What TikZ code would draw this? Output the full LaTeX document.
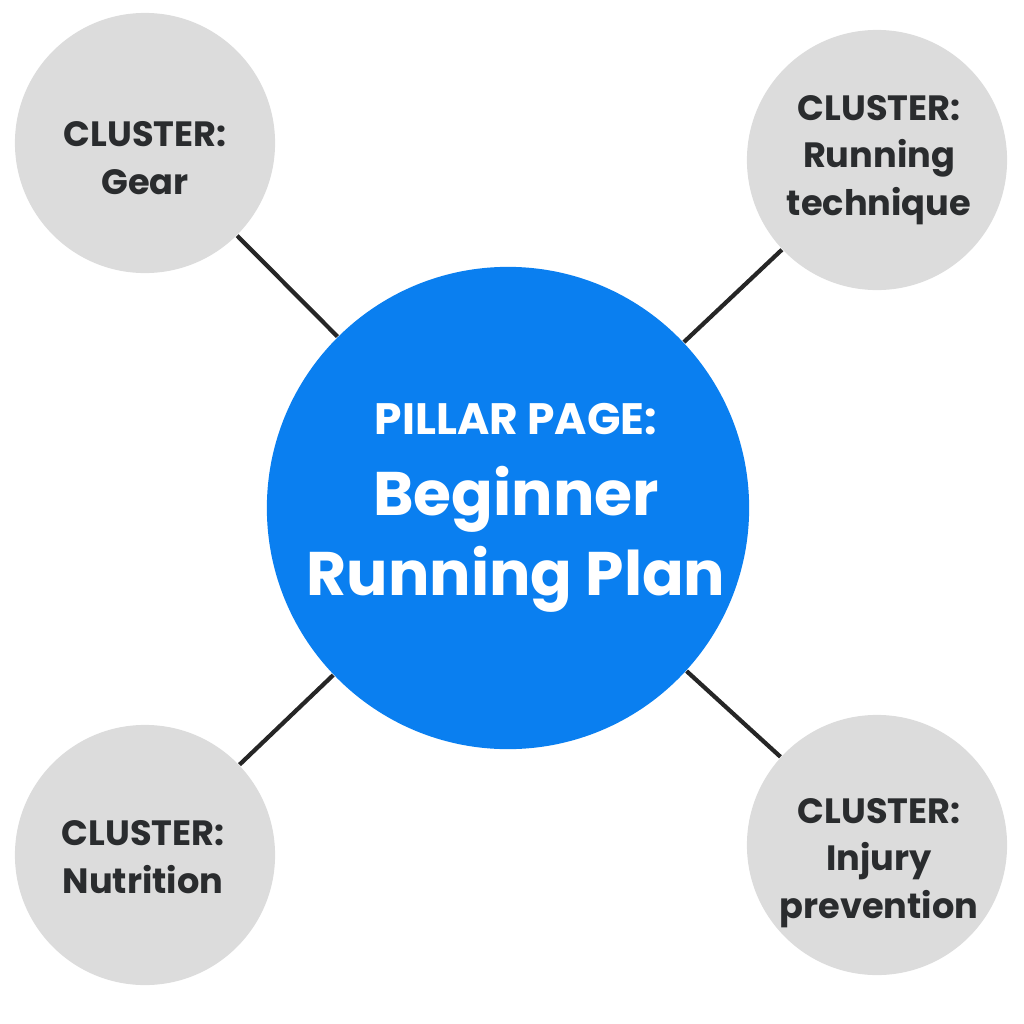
\documentclass[tikz,border=0pt]{standalone}
\usepackage{fontspec}
\setmainfont{Poppins}
\definecolor{blu}{HTML}{0A7FF0}
\definecolor{gry}{HTML}{DCDCDC}
\definecolor{txt}{HTML}{2A2C2E}
\begin{document}
\begin{tikzpicture}[x=0.01cm,y=-0.01cm,
  cl/.style={circle,fill=gry,minimum size=2.6cm,inner sep=0pt},
  tx/.style={align=center,text=txt,font=\fontsize{10}{13.5}\selectfont\bfseries},
  ln/.style={line width=1.2pt,black!85}]
\useasboundingbox (0,0) rectangle (1024,1024);
\node[circle,fill=blu,minimum size=4.82cm,inner sep=0pt] (c) at (508,508) {};
\node[text=white,align=center] (t) at (516,508) {\fontsize{12.5}{15}\selectfont\bfseries PILLAR PAGE:\\[8pt]\fontsize{17.5}{21.5}\selectfont\bfseries Beginner\\[3pt]\fontsize{17.5}{21.5}\selectfont\bfseries Running Plan};
\node[cl] (g) at (145,143) {};
\node[cl] (r) at (877,160) {};
\node[cl] (n) at (145,855) {};
\node[cl] (i) at (877,845) {};
\node[tx] at (145,158) {CLUSTER:\\Gear};
\node[tx] at (879,160) {CLUSTER:\\Running\\technique};
\node[tx] at (143,857) {CLUSTER:\\Nutrition};
\node[tx] at (879,863) {CLUSTER:\\Injury\\prevention};
\foreach \a in {g,r,n,i}{\draw[ln] (c) -- (\a);}
\end{tikzpicture}
\end{document}
